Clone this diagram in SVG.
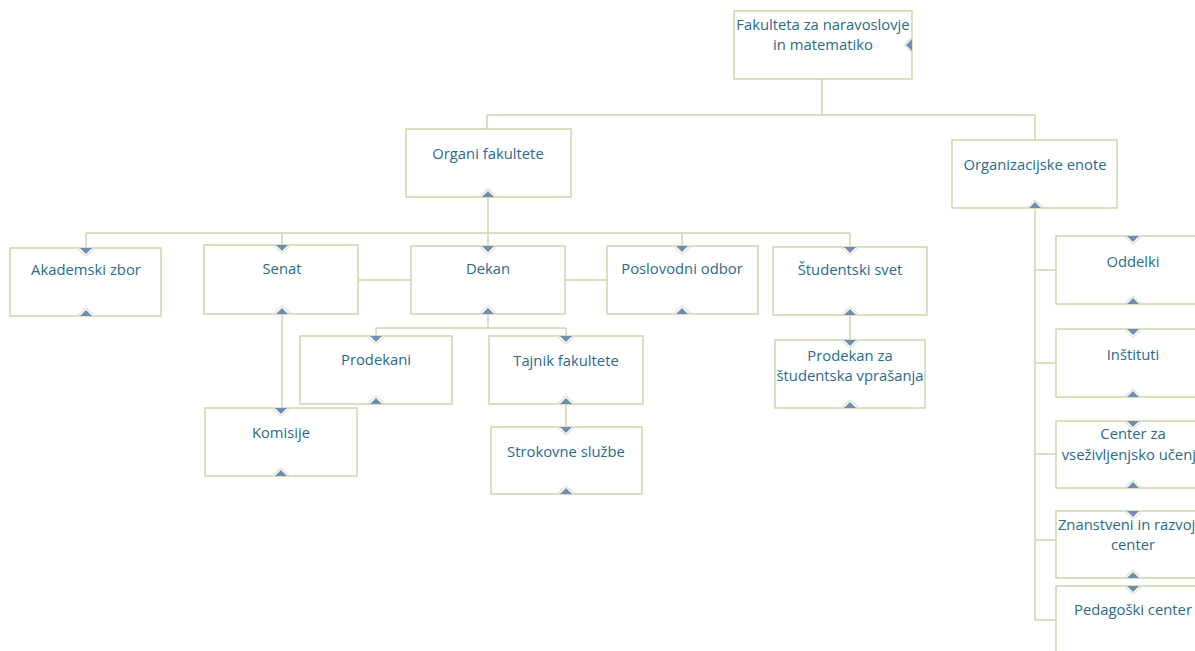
<svg xmlns="http://www.w3.org/2000/svg" width="1195" height="651" viewBox="0 0 1195 651">
<defs>
<style>
.box{fill:#fff;stroke:#ccd6ae;stroke-width:1.5}
.ln{fill:none;stroke:#ccd6ae;stroke-width:1.5}
.t{font-family:"Open Sans","Noto Sans",sans-serif;font-size:14.8px;fill:#2b6b8a;text-anchor:middle}
.tri{fill:#6f8db0}
.v{fill:none;stroke:#dfe4d0;stroke-width:1.2}
</style>
<g id="dn"><polyline class="v" points="-9,0 0,8 9,0"/><polygon class="tri" points="-6,0 6,0 0,6"/></g>
<g id="up"><polyline class="v" points="-9,0 0,-8 9,0"/><polygon class="tri" points="-6,0 6,0 0,-6"/></g>
</defs>
<rect width="1195" height="651" fill="#fff"/>
<g id="connectors">
<path class="ln" d="M822,79V115M487,115H1035M487,115V129M1035,115V140"/>
<path class="ln" d="M488,197V246M86,233H850M86,233V248M282,233V245M682,233V246M850,233V247"/>
<path class="ln" d="M358,280H411M565,280H607"/>
<path class="ln" d="M282,314V408M488,314V328M376,328H566M376,328V336M566,328V336M566,404V427M850,315V340"/>
<path class="ln" d="M1035,208V620M1035,270H1056M1035,363H1056M1035,454H1056M1035,540H1056M1035,620H1056"/>
</g>
<g id="n-fakulteta"><rect class="box" x="734" y="11" width="178" height="68"/>
<text class="t" x="823" y="30">Fakulteta za naravoslovje</text><text class="t" x="823" y="50">in matematiko</text>
<polyline class="v" points="912,37 904,45 912,53"/><polygon class="tri" points="912,39 912,51 906,45"/></g>
<g id="n-organi"><rect class="box" x="406" y="129" width="165" height="68"/><text class="t" x="488" y="159">Organi fakultete</text><use href="#up" x="488" y="197"/></g>
<g id="n-orgenote"><rect class="box" x="952" y="140" width="165" height="68"/><text class="t" x="1035" y="170">Organizacijske enote</text><use href="#up" x="1035" y="208"/></g>
<g id="n-akademski"><rect class="box" x="10" y="248" width="151" height="68"/><text class="t" x="86" y="275">Akademski zbor</text><use href="#dn" x="86" y="248"/><use href="#up" x="86" y="316"/></g>
<g id="n-senat"><rect class="box" x="204" y="245" width="154" height="69"/><text class="t" x="282" y="274">Senat</text><use href="#dn" x="282" y="245"/><use href="#up" x="282" y="314"/></g>
<g id="n-dekan"><rect class="box" x="411" y="246" width="154" height="68"/><text class="t" x="488" y="274">Dekan</text><use href="#dn" x="488" y="246"/><use href="#up" x="488" y="314"/></g>
<g id="n-poslovodni"><rect class="box" x="607" y="246" width="151" height="68"/><text class="t" x="682" y="274">Poslovodni odbor</text><use href="#dn" x="682" y="246"/><use href="#up" x="682" y="314"/></g>
<g id="n-studentski"><rect class="box" x="773" y="247" width="154" height="68"/><text class="t" x="850" y="275">Študentski svet</text><use href="#dn" x="850" y="247"/><use href="#up" x="850" y="315"/></g>
<g id="n-prodekan-sv"><rect class="box" x="775" y="340" width="150" height="68"/><text class="t" x="850" y="361">Prodekan za</text><text class="t" x="850" y="381">študentska vprašanja</text><use href="#dn" x="850" y="340"/><use href="#up" x="850" y="408"/></g>
<g id="n-prodekani"><rect class="box" x="300" y="336" width="152" height="68"/><text class="t" x="376" y="365">Prodekani</text><use href="#dn" x="376" y="336"/><use href="#up" x="376" y="404"/></g>
<g id="n-komisije"><rect class="box" x="205" y="408" width="152" height="68"/><text class="t" x="281" y="438">Komisije</text><use href="#dn" x="281" y="408"/><use href="#up" x="281" y="476"/></g>
<g id="n-tajnik"><rect class="box" x="489" y="336" width="154" height="68"/><text class="t" x="566" y="366">Tajnik fakultete</text><use href="#dn" x="566" y="336"/><use href="#up" x="566" y="404"/></g>
<g id="n-strokovne"><rect class="box" x="491" y="427" width="151" height="67"/><text class="t" x="566" y="457">Strokovne službe</text><use href="#dn" x="566" y="427"/><use href="#up" x="566" y="494"/></g>
<g id="n-oddelki"><rect class="box" x="1056" y="236" width="154" height="68"/><text class="t" x="1133" y="267">Oddelki</text><use href="#dn" x="1133" y="236"/><use href="#up" x="1133" y="304"/></g>
<g id="n-instituti"><rect class="box" x="1056" y="329" width="154" height="68"/><text class="t" x="1133" y="360">Inštituti</text><use href="#dn" x="1133" y="329"/><use href="#up" x="1133" y="397"/></g>
<g id="n-center"><rect class="box" x="1056" y="421" width="154" height="67"/><text class="t" x="1133" y="439">Center za</text><text class="t" x="1133" y="460">vseživljenjsko učenje</text><use href="#dn" x="1133" y="421"/><use href="#up" x="1133" y="488"/></g>
<g id="n-znanstveni"><rect class="box" x="1056" y="511" width="154" height="67"/><text class="t" x="1133" y="530">Znanstveni in razvojni</text><text class="t" x="1133" y="550">center</text><use href="#dn" x="1133" y="511"/><use href="#up" x="1133" y="578"/></g>
<g id="n-pedagoski"><rect class="box" x="1056" y="586" width="154" height="68"/><text class="t" x="1133" y="615">Pedagoški center</text><use href="#dn" x="1133" y="586"/></g>
</svg>
